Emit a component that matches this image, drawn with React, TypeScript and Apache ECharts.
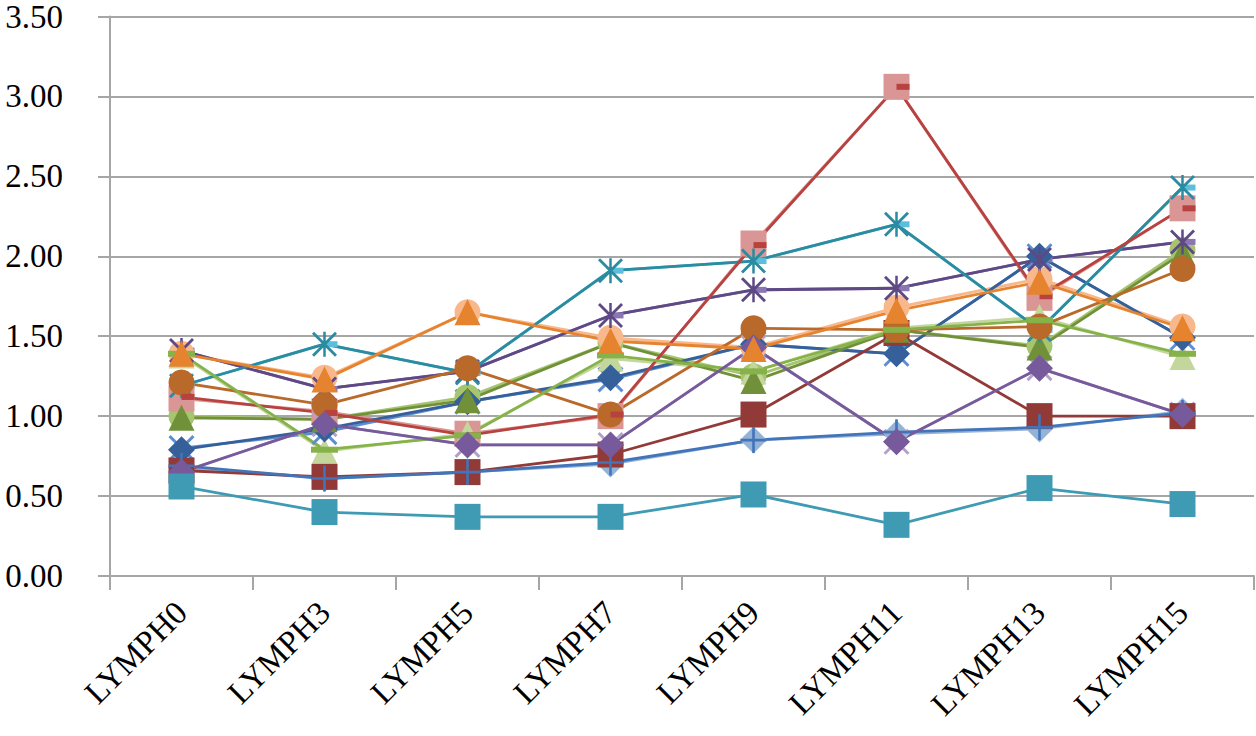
import React, { useEffect, useRef } from 'react';
import * as echarts from 'echarts';

const categories = ['LYMPH0', 'LYMPH3', 'LYMPH5', 'LYMPH7', 'LYMPH9', 'LYMPH11', 'LYMPH13', 'LYMPH15'];

// y axis
const yMin = 0;
const yMax = 3.5;
const yStep = 0.5;

// main series
const darkBlueDiamond = [0.79, 0.92, 1.09, 1.24, 1.45, 1.39, 2.0, 1.49];
const darkRedSquare = [0.66, 0.62, 0.65, 0.76, 1.01, 1.52, 1.0, 1.0];
const darkGreenTriangle = [0.99, 0.98, 1.1, 1.46, 1.22, 1.54, 1.43, 2.02];
const darkPurpleStar = [1.41, 1.17, 1.28, 1.63, 1.79, 1.8, 1.98, 2.09];
const tealStar = [1.19, 1.45, 1.27, 1.91, 1.97, 2.2, 1.54, 2.43];
const brownCircle = [1.21, 1.07, 1.3, 1.01, 1.55, 1.54, 1.56, 1.92];
const bluePlus = [0.69, 0.61, 0.65, 0.71, 0.85, 0.9, 0.93, 1.02];
const redDash = [1.12, 1.02, 0.88, 1.01, 2.07, 3.06, 1.75, 2.3];
const greenDash = [1.39, 0.79, 0.88, 1.38, 1.28, 1.54, 1.6, 1.39];
const purpleDiamond = [0.65, 0.95, 0.82, 0.82, 1.43, 0.84, 1.3, 1.01];
const tealSquare = [0.56, 0.4, 0.37, 0.37, 0.51, 0.32, 0.55, 0.45];
const orangeTriangle = [1.39, 1.23, 1.65, 1.47, 1.42, 1.66, 1.84, 1.55];

// lighter companion series
const lightBlueX = [0.8, 0.9, 1.09, 1.23, 1.45, 1.39, 2.0, 1.49];
const lightGreenCircle = [1.0, 0.98, 1.12, 1.46, 1.25, 1.54, 1.44, 2.04];
const lightPurpleDash = [1.41, 1.17, 1.28, 1.63, 1.79, 1.8, 1.98, 2.09];
const lightAquaDash = [1.19, 1.45, 1.27, 1.91, 1.97, 2.2, 1.54, 2.43];
const lightBlueDiamond = [0.68, 0.61, 0.65, 0.7, 0.85, 0.89, 0.92, 1.03];
const pinkSquare = [1.11, 1.03, 0.89, 1.0, 2.08, 3.06, 1.74, 2.3];
const lightGreenTriangle = [1.38, 0.78, 0.89, 1.36, 1.28, 1.55, 1.62, 1.37];
const lightPurpleX = [0.65, 0.95, 0.82, 0.82, 1.43, 0.84, 1.3, 1.01];
const lightOrangeCircle = [1.39, 1.24, 1.65, 1.49, 1.43, 1.68, 1.86, 1.56];

const X_PATH = 'path://M0,8L8,0L100,92L92,100Z M92,0L100,8L8,100L0,92Z';
const STAR_PATH = 'path://M0,8L8,0L100,92L92,100Z M92,0L100,8L8,100L0,92Z M45,0L55,0L55,100L45,100Z';
const PLUS_PATH = 'path://M45,0L55,0L55,100L45,100Z M0,45L100,45L100,55L0,55Z';

type Mk = { symbol: string; size: number[]; offset?: number[] };
const MK: Record<string, Mk> = {
  diamond: { symbol: 'diamond', size: [27, 27] },
  square: { symbol: 'rect', size: [26, 26] },
  triangle: { symbol: 'triangle', size: [26, 26] },
  circle: { symbol: 'circle', size: [26, 26] },
  x: { symbol: X_PATH, size: [26, 26] },
  star: { symbol: STAR_PATH, size: [25, 25] },
  plus: { symbol: PLUS_PATH, size: [26, 26] },
  rdash: { symbol: 'rect', size: [13, 6], offset: [6.5, 0] },
  dash: { symbol: 'rect', size: [27, 6] },
};

const seriesDefs: { name: string; data: number[]; mk: string; color: string; line: string }[] = [
  { name: 'lightBlueX', data: lightBlueX, mk: 'x', color: '#5E8ED2', line: '#5E8ED2' },
  { name: 'lightGreenCircle', data: lightGreenCircle, mk: 'circle', color: '#A6C56E', line: '#A6C56E' },
  { name: 'lightPurpleDash', data: lightPurpleDash, mk: 'rdash', color: '#8B76B5', line: '#8B76B5' },
  { name: 'lightAquaDash', data: lightAquaDash, mk: 'rdash', color: '#5BBEDA', line: '#5BBEDA' },
  { name: 'lightBlueDiamond', data: lightBlueDiamond, mk: 'diamond', color: '#95B3D7', line: '#95B3D7' },
  { name: 'pinkSquare', data: pinkSquare, mk: 'square', color: '#D99694', line: '#D99694' },
  { name: 'lightGreenTriangle', data: lightGreenTriangle, mk: 'triangle', color: '#C3D69B', line: '#C3D69B' },
  { name: 'lightPurpleX', data: lightPurpleX, mk: 'x', color: '#B3A2C7', line: '#B3A2C7' },
  { name: 'lightOrangeCircle', data: lightOrangeCircle, mk: 'circle', color: '#F9B88C', line: '#F9B88C' },
  { name: 'darkBlueDiamond', data: darkBlueDiamond, mk: 'diamond', color: '#35609A', line: '#35609A' },
  { name: 'darkRedSquare', data: darkRedSquare, mk: 'square', color: '#923A37', line: '#923A37' },
  { name: 'darkGreenTriangle', data: darkGreenTriangle, mk: 'triangle', color: '#71903A', line: '#71903A' },
  { name: 'darkPurpleStar', data: darkPurpleStar, mk: 'star', color: '#5E4985', line: '#5E4985' },
  { name: 'tealStar', data: tealStar, mk: 'star', color: '#2B8BA1', line: '#2B8BA1' },
  { name: 'brownCircle', data: brownCircle, mk: 'circle', color: '#B9692A', line: '#B9692A' },
  { name: 'bluePlus', data: bluePlus, mk: 'plus', color: '#4174B8', line: '#4174B8' },
  { name: 'redDash', data: redDash, mk: 'rdash', color: '#B8423F', line: '#B8423F' },
  { name: 'greenDash', data: greenDash, mk: 'dash', color: '#86B24A', line: '#86B24A' },
  { name: 'purpleDiamond', data: purpleDiamond, mk: 'diamond', color: '#765A9C', line: '#765A9C' },
  { name: 'tealSquare', data: tealSquare, mk: 'square', color: '#3E9BB3', line: '#3E9BB3' },
  { name: 'orangeTriangle', data: orangeTriangle, mk: 'triangle', color: '#E5832F', line: '#E5832F' },
];

const GRAY = '#A6A6A6';
const FONT = '"Liberation Serif", "Times New Roman", serif';

export default function App() {
  const ref = useRef<HTMLDivElement>(null);
  useEffect(() => {
    if (!ref.current) return;
    const chart = echarts.init(ref.current, null, { renderer: 'svg' });
    chart.setOption({
      animation: false,
      backgroundColor: '#ffffff',
      grid: { left: 110, right: 2, top: 16, bottom: 160, containLabel: false },
      xAxis: {
        type: 'category',
        data: categories,
        boundaryGap: true,
        axisLine: { show: true, lineStyle: { color: GRAY, width: 2 } },
        axisTick: { show: true, length: 14, lineStyle: { color: GRAY, width: 2 } },
        splitLine: { show: false },
        axisLabel: {
          interval: 0,
          rotate: 45,
          margin: 31,
          fontFamily: FONT,
          fontSize: 33,
          color: '#000000',
        },
      },
      yAxis: {
        type: 'value',
        min: yMin,
        max: yMax,
        interval: yStep,
        axisLine: { show: true, lineStyle: { color: GRAY, width: 2 } },
        axisTick: { show: true, length: 12, lineStyle: { color: GRAY, width: 2 } },
        splitLine: { show: true, lineStyle: { color: GRAY, width: 2 } },
        axisLabel: {
          formatter: (v: number) => v.toFixed(2),
          margin: 47,
          fontFamily: FONT,
          fontSize: 33,
          lineHeight: 30,
          color: '#000000',
        },
      },
      series: seriesDefs.map((s) => {
        const m = MK[s.mk];
        return {
          type: 'line',
          name: s.name,
          data: s.data,
          symbol: m.symbol,
          symbolSize: m.size,
          symbolOffset: m.offset || [0, 0],
          symbolKeepAspect: false,
          showSymbol: true,
          showAllSymbol: true,
          itemStyle: { color: s.color, borderWidth: 0 },
          lineStyle: { color: s.line, width: 2.8 },
          emphasis: { disabled: true },
          silent: true,
        };
      }),
    });
    return () => chart.dispose();
  }, []);
  return <div ref={ref} style={{ position: 'fixed', left: 0, top: 0, width: 1256, height: 736 }} />;
}
